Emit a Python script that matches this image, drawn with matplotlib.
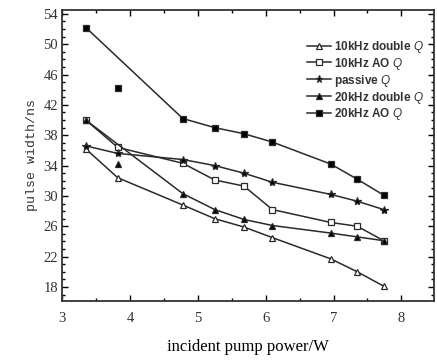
import numpy as np
import matplotlib.pyplot as plt
from matplotlib.ticker import MultipleLocator

plt.rcParams['mathtext.fontset'] = 'custom'
plt.rcParams['mathtext.it'] = 'Liberation Sans:italic'

# pump power (W) at which each point was measured
power = [3.35, 3.82, 4.78, 5.25, 5.68, 6.1, 6.96, 7.35, 7.74]

# pulse width (ns) per series
dbl_10k = [36.2, 32.4, 28.8, 27.0, 25.9, 24.5, 21.7, 20.0, 18.1]
ao_10k = [40.0, 36.4, 34.3, 32.1, 31.3, 28.2, 26.5, 26.0, 24.1]
passive = [36.6, 35.6, 34.8, 34.0, 33.0, 31.8, 30.2, 29.3, 28.2]
dbl_20k = [40.0, 34.2, 30.3, 28.2, 26.9, 26.1, 25.1, 24.6, 24.1]
ao_20k = [52.2, 44.2, 40.2, 39.0, 38.2, 37.1, 34.2, 32.2, 30.1]

names = ['10kHz double $Q$', '10kHz AO $Q$', 'passive $Q$',
         '20kHz double $Q$', '20kHz AO $Q$']
series = [dbl_10k, ao_10k, passive, dbl_20k, ao_20k]
markers = ['^', 's', '*', '^', 's']
faces = ['white', 'white', 'black', 'black', 'black']
msizes = [5, 4.5, 6, 5, 4.5]
# points that sit off the drawn curve
off_curve = [[], [], [], [1], [1]]

fig = plt.figure(figsize=(4.37, 3.6), dpi=100)
ax = fig.add_axes([0.142, 0.165, 0.851, 0.807])

for y, nm, mk, fc, ms, skip in zip(series, names, markers, faces, msizes, off_curve):
    xs = [p for i, p in enumerate(power) if i not in skip]
    ys = [v for i, v in enumerate(y) if i not in skip]
    ax.plot(xs, ys, '-', color='#2a2a2a', lw=1.1)
    ax.plot(power, y, linestyle='none', marker=mk, ms=ms, mfc=fc,
            mec='#2a2a2a', mew=0.9)
    ax.plot([], [], '-', color='#2a2a2a', lw=1.1, marker=mk, ms=ms * 0.85,
            mfc=fc, mec='#2a2a2a', mew=0.9, label=nm)

ax.set_xlim(3, 8.48)
ax.set_ylim(16.2, 54.5)
ax.xaxis.set_major_locator(MultipleLocator(1))
ax.xaxis.set_minor_locator(MultipleLocator(0.5))
ax.yaxis.set_major_locator(MultipleLocator(4))
ax.yaxis.set_minor_locator(MultipleLocator(1))
ax.set_yticks(np.arange(18, 55, 4))
ax.tick_params(which='both', direction='in', top=True, right=True, width=1)
ax.tick_params(which='major', length=4)
ax.tick_params(which='minor', length=2.5)
ax.tick_params(axis='x', pad=8)
ax.tick_params(axis='y', pad=3)
for lab in ax.get_xticklabels() + ax.get_yticklabels():
    lab.set_fontfamily('Liberation Serif')
    lab.set_fontsize(10.5)
    lab.set_color('#333333')
for s in ax.spines.values():
    s.set_linewidth(1.3)
    s.set_color('#333333')

ax.set_ylabel('pulse width/ns', family='Liberation Mono', fontsize=9.5,
              color='#333333', labelpad=4)
ax.set_xlabel('incident pump power/W', family='Liberation Serif', fontsize=12,
              color='black', labelpad=10)

leg = ax.legend(loc='upper right', bbox_to_anchor=(0.995, 0.93), frameon=False,
                prop={'family': 'Liberation Sans', 'weight': 'bold', 'size': 8.5},
                handlelength=2.0, handletextpad=0.3, labelspacing=0.08,
                borderaxespad=0.3)
for t in leg.get_texts():
    t.set_color('#333333')

fig.savefig('out.png', dpi=100)
